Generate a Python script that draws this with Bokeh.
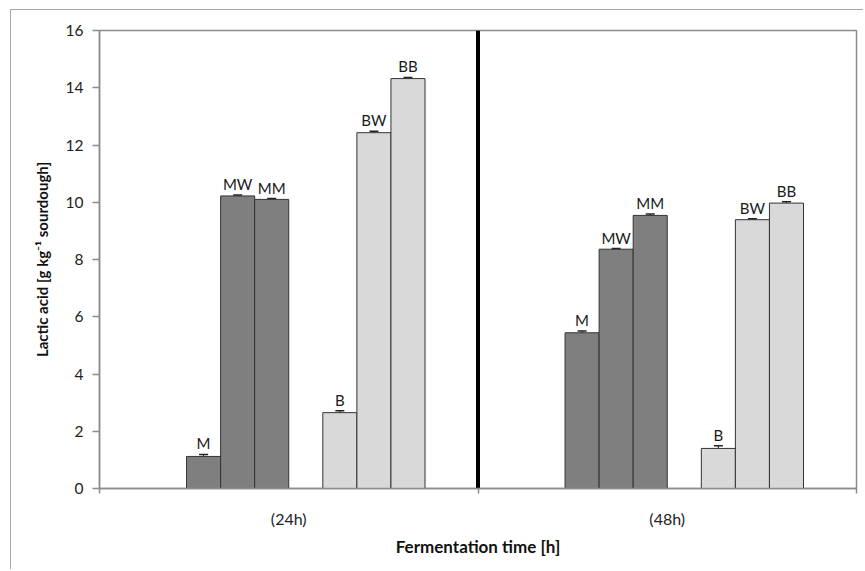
from bokeh.plotting import figure
from bokeh.models import (ColumnDataSource, FixedTicker, Whisker, TeeHead, Range1d)
from bokeh.core.properties import value
from bokeh.embed import file_html
from bokeh.resources import INLINE

# ---- data ----
groups = ["(24h)", "(48h)"]
series = ["M", "MW", "MM", "B", "BW", "BB"]
values_24h = [1.12, 10.22, 10.10, 2.65, 12.43, 14.32]
values_48h = [5.44, 8.36, 9.54, 1.40, 9.39, 9.97]
errors_24h = [0.07, 0.03, 0.03, 0.07, 0.05, 0.04]
errors_48h = [0.06, 0.02, 0.05, 0.09, 0.03, 0.05]
y_ticks = [0, 2, 4, 6, 8, 10, 12, 14, 16]
divider_at = 1.0

FONT = "Lato"
DARK = "#7f7f7f"
LIGHT = "#d9d9d9"
AXIS = "#8c8c8c"

slot = [0, 1, 2, 4, 5, 6]
bw = 0.09
offsets = [-0.225 + k * bw for k in slot]
colors = [DARK if s.startswith("M") else LIGHT for s in series]

xs, tops, errs, cols, labs = [], [], [], [], []
for gi, (vals, es) in enumerate([(values_24h, errors_24h), (values_48h, errors_48h)]):
    for si, s in enumerate(series):
        xs.append(gi + 0.5 + offsets[si])
        tops.append(vals[si])
        errs.append(es[si])
        cols.append(colors[si])
        labs.append(s)

src = ColumnDataSource(dict(
    x=xs, top=tops, color=cols, label=labs,
    upper=[t + e for t, e in zip(tops, errs)],
    lower=[t - e for t, e in zip(tops, errs)],
))

p = figure(width=853, height=560, output_backend="svg", toolbar_location=None,
           x_range=Range1d(0, len(groups)), y_range=Range1d(0, 16),
           min_border_left=88, min_border_right=8, min_border_top=20,
           min_border_bottom=82,
           styles={"margin-left": "10px", "margin-top": "9px",
                   "border-left": "1.5px solid #a6a6a6",
                   "border-top": "1.5px solid #a6a6a6"})
p.grid.visible = False
p.outline_line_color = AXIS
p.outline_line_width = 1.5
p.background_fill_color = "white"
p.border_fill_color = "white"

p.vbar(x="x", top="top", width=bw, bottom=0, source=src,
       fill_color="color", line_color="#333333", line_width=1)

w = Whisker(base="x", upper="upper", lower="lower", source=src,
            line_color="#222222", line_width=1,
            upper_head=TeeHead(size=9, line_color="#222222", line_width=1.5),
            lower_head=TeeHead(size=9, line_color="#222222", line_width=1.5))
p.add_layout(w)

p.text(x="x", y="upper", text="label", source=src, text_align="center",
       text_baseline="alphabetic", y_offset=-11,
       text_font=value(FONT), text_font_size="15px", text_color="#1a1a1a")

# divider between the two fermentation times
p.segment(x0=[divider_at], y0=[0], x1=[divider_at], y1=[16],
          line_color="black", line_width=4)

# y axis
ya = p.yaxis[0]
ya.ticker = FixedTicker(ticks=y_ticks)
ya.axis_line_color = AXIS
ya.axis_line_width = 1.5
ya.major_tick_line_color = AXIS
ya.major_tick_line_width = 1.5
ya.major_tick_out = 7
ya.major_tick_in = 0
ya.minor_tick_line_color = None
ya.major_label_standoff = 9
ya.major_label_text_font = FONT
ya.major_label_text_font_size = "15.5px"
ya.major_label_text_color = "#222222"
ya.axis_label = "Lactic acid [g kg\u207b\u00b9 sourdough]"
ya.axis_label_text_font = FONT
ya.axis_label_text_font_style = "bold"
ya.axis_label_text_font_size = "15px"
ya.axis_label_text_color = "#111111"
ya.axis_label_standoff = 12

# x axis
xa = p.xaxis[0]
xa.ticker = FixedTicker(ticks=[0.5 + i for i in range(len(groups))],
                        minor_ticks=[float(i) for i in range(len(groups) + 1)])
xa.major_label_overrides = {0.5 + i: g for i, g in enumerate(groups)}
xa.axis_line_color = AXIS
xa.axis_line_width = 1.5
xa.major_tick_line_color = None
xa.major_tick_out = 0
xa.major_tick_in = 0
xa.minor_tick_line_color = AXIS
xa.minor_tick_line_width = 1.5
xa.minor_tick_out = 5
xa.minor_tick_in = 0
xa.major_label_standoff = 15
xa.major_label_text_font = FONT
xa.major_label_text_font_size = "16px"
xa.major_label_text_color = "#222222"
xa.axis_label = "Fermentation time [h]"
xa.axis_label_text_font = FONT
xa.axis_label_text_font_style = "bold"
xa.axis_label_text_font_size = "17px"
xa.axis_label_text_color = "#111111"
xa.axis_label_standoff = 5

open("out.html", "w").write(file_html(p, INLINE))
